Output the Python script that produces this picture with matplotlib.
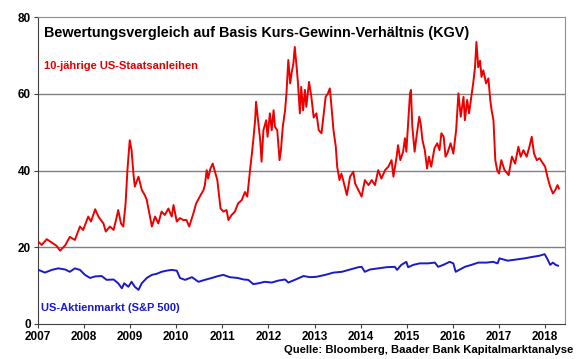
import matplotlib
matplotlib.use("Agg")
import matplotlib.pyplot as plt

plt.rcParams['font.family'] = ['Liberation Sans', 'DejaVu Sans']
plt.rcParams['font.weight'] = 'bold'

# KGV 10-jaehrige US-Staatsanleihen (1 / Rendite)
bond_t = [2007.01, 2007.08, 2007.19, 2007.30, 2007.40, 2007.48, 2007.59, 2007.69, 2007.80, 2007.91,
          2007.98, 2008.09, 2008.15, 2008.24, 2008.31, 2008.42, 2008.47, 2008.56, 2008.64, 2008.71,
          2008.74, 2008.80, 2008.85, 2008.90, 2008.94, 2008.99, 2009.03, 2009.07, 2009.10, 2009.18,
          2009.25, 2009.32, 2009.36, 2009.43, 2009.47, 2009.54, 2009.61, 2009.68, 2009.75, 2009.83,
          2009.90, 2009.94, 2010.01, 2010.08, 2010.15, 2010.22, 2010.28, 2010.37, 2010.43, 2010.51,
          2010.59, 2010.62, 2010.66, 2010.69, 2010.74, 2010.79, 2010.84, 2010.89, 2010.93, 2010.96,
          2011.02, 2011.09, 2011.13, 2011.20, 2011.27, 2011.34, 2011.42, 2011.49, 2011.54, 2011.60,
          2011.64, 2011.67, 2011.71, 2011.73, 2011.78, 2011.82, 2011.85, 2011.89, 2011.95, 2011.98,
          2012.03, 2012.07, 2012.11, 2012.14, 2012.19, 2012.24, 2012.27, 2012.31, 2012.36, 2012.39,
          2012.43, 2012.47, 2012.50, 2012.54, 2012.57, 2012.61, 2012.64, 2012.68, 2012.71, 2012.75,
          2012.79, 2012.82, 2012.88, 2012.93, 2012.98, 2013.04, 2013.09, 2013.15, 2013.20, 2013.24,
          2013.29, 2013.33, 2013.36, 2013.41, 2013.46, 2013.49, 2013.54, 2013.58, 2013.62, 2013.67,
          2013.70, 2013.77, 2013.84, 2013.88, 2013.95, 2014.02, 2014.09, 2014.17, 2014.24, 2014.31,
          2014.38, 2014.45, 2014.53, 2014.60, 2014.67, 2014.71, 2014.78, 2014.81, 2014.86, 2014.92,
          2014.96, 2014.99, 2015.03, 2015.07, 2015.09, 2015.12, 2015.17, 2015.21, 2015.27, 2015.30,
          2015.34, 2015.39, 2015.44, 2015.48, 2015.53, 2015.60, 2015.66, 2015.71, 2015.75, 2015.80,
          2015.84, 2015.88, 2015.95, 2016.01, 2016.07, 2016.12, 2016.17, 2016.23, 2016.26, 2016.31,
          2016.35, 2016.40, 2016.44, 2016.48, 2016.51, 2016.55, 2016.59, 2016.62, 2016.66, 2016.72,
          2016.77, 2016.81, 2016.84, 2016.88, 2016.90, 2016.92, 2016.96, 2017.00, 2017.05, 2017.12,
          2017.21, 2017.28, 2017.35, 2017.42, 2017.47, 2017.53, 2017.60, 2017.66, 2017.71, 2017.76,
          2017.82, 2017.88, 2017.93, 2018.00, 2018.05, 2018.11, 2018.17, 2018.22, 2018.27, 2018.30]
bond_kgv = [21.4, 20.6, 22.1, 21.2, 20.4, 19.1, 20.5, 22.7, 21.9, 25.4,
            24.5, 28.0, 26.7, 29.9, 28.0, 26.2, 24.1, 25.4, 24.5, 28.0,
            29.7, 26.2, 25.4, 31.4, 40.1, 47.9, 45.3, 39.2, 35.8, 38.4,
            35.0, 33.5, 32.3, 28.0, 25.4, 28.0, 26.2, 29.3, 28.4, 30.1,
            28.0, 31.0, 26.7, 27.6, 27.1, 27.1, 25.4, 28.8, 31.4, 33.2,
            34.9, 36.2, 40.1, 37.9, 40.5, 41.8, 39.7, 37.5, 33.2, 30.1,
            29.3, 29.7, 27.1, 28.4, 29.3, 31.4, 32.3, 34.4, 33.2, 40.1,
            44.4, 47.9, 53.1, 57.9, 52.3, 47.9, 42.3, 50.5, 53.1, 48.8,
            54.9, 50.5, 55.7, 51.4, 50.5, 42.7, 45.3, 51.4, 55.7, 60.1,
            68.8, 62.7, 65.3, 67.9, 72.2, 67.0, 62.7, 54.9, 61.8, 55.7,
            61.0, 56.6, 63.1, 59.2, 53.8, 54.9, 50.5, 49.7, 54.9, 59.2,
            60.1, 61.4, 57.5, 50.5, 46.2, 41.0, 37.5, 39.2, 37.5, 35.0,
            33.6, 38.4, 39.7, 36.6, 34.9, 33.2, 37.5, 36.2, 37.5, 36.2,
            40.1, 37.9, 40.1, 41.0, 42.7, 38.4, 43.6, 46.6, 42.7, 44.9,
            48.4, 44.9, 52.3, 60.1, 61.0, 51.4, 44.9, 48.8, 54.0, 52.3,
            47.9, 45.3, 40.5, 43.6, 41.0, 45.8, 47.1, 45.3, 49.7, 48.8,
            43.6, 44.5, 47.1, 44.4, 50.5, 60.1, 54.0, 59.2, 53.1, 58.4,
            54.9, 59.2, 62.7, 66.9, 73.5, 66.9, 68.6, 64.4, 66.1, 62.7,
            64.0, 58.4, 55.7, 53.1, 47.9, 42.7, 40.1, 39.2, 42.7, 40.1,
            38.8, 43.6, 41.8, 46.2, 43.6, 45.3, 43.6, 46.2, 48.8, 44.4,
            42.7, 43.2, 42.3, 41.0, 38.4, 35.8, 34.0, 34.9, 36.2, 35.3]

# KGV S&P 500
spx_t = [2007.01, 2007.15, 2007.30, 2007.44, 2007.59, 2007.69, 2007.80, 2007.91, 2008.02, 2008.13,
         2008.24, 2008.38, 2008.49, 2008.64, 2008.74, 2008.82, 2008.87, 2008.96, 2009.03, 2009.10,
         2009.18, 2009.25, 2009.36, 2009.47, 2009.58, 2009.68, 2009.79, 2009.90, 2010.01, 2010.08,
         2010.19, 2010.34, 2010.48, 2010.62, 2010.77, 2010.91, 2011.02, 2011.16, 2011.33, 2011.46,
         2011.56, 2011.67, 2011.78, 2011.92, 2012.07, 2012.21, 2012.36, 2012.43, 2012.57, 2012.76,
         2012.90, 2013.04, 2013.23, 2013.41, 2013.59, 2013.77, 2013.95, 2014.02, 2014.09, 2014.20,
         2014.38, 2014.56, 2014.74, 2014.79, 2014.88, 2014.99, 2015.03, 2015.14, 2015.28, 2015.46,
         2015.61, 2015.68, 2015.79, 2015.93, 2016.01, 2016.06, 2016.15, 2016.26, 2016.40, 2016.55,
         2016.73, 2016.87, 2016.97, 2017.01, 2017.19, 2017.37, 2017.55, 2017.73, 2017.88, 2017.99,
         2018.06, 2018.11, 2018.17, 2018.23, 2018.28]
spx_kgv = [14.1, 13.4, 14.1, 14.5, 14.2, 13.6, 14.5, 14.1, 12.8, 12.0,
           12.4, 12.5, 11.5, 11.6, 10.6, 9.3, 10.6, 9.7, 11.0, 9.7,
           8.9, 10.6, 12.0, 12.8, 13.1, 13.6, 13.9, 14.1, 13.9, 12.0,
           11.5, 12.2, 11.0, 11.5, 12.0, 12.5, 12.8, 12.2, 12.0, 11.6,
           11.5, 10.4, 10.6, 11.0, 10.8, 11.3, 11.6, 10.8, 11.5, 12.5,
           12.2, 12.3, 12.8, 13.4, 13.6, 14.2, 14.8, 14.9, 13.6, 14.2,
           14.5, 14.8, 14.9, 14.1, 15.4, 16.2, 14.8, 15.4, 15.8, 15.8,
           16.0, 14.9, 15.4, 16.2, 15.8, 13.6, 14.2, 14.9, 15.4, 16.0,
           16.0, 16.2, 15.8, 17.1, 16.5, 16.8, 17.1, 17.5, 17.8, 18.2,
           16.7, 15.4, 16.0, 15.4, 15.2]

years = list(range(2007, 2019))
y_ticks = [0, 20, 40, 60, 80]

fig = plt.figure(figsize=(5.8, 3.59), dpi=100)
ax = fig.add_axes([0.0655, 0.0975, 0.9085, 0.8551])

for v in [20, 40, 60]:
    ax.axhline(v, color='#808080', lw=1.0, zorder=1)

ax.plot(bond_t, bond_kgv, color='#ee0000', lw=1.4, zorder=3)
ax.plot(spx_t, spx_kgv, color='#1a1acc', lw=1.4, zorder=3)

ax.set_xlim(2007, 2018.43)
ax.set_ylim(0, 80)
ax.set_xticks(years)
ax.set_xticklabels([str(y) for y in years])
ax.set_yticks(y_ticks)
ax.tick_params(axis='both', direction='out', length=3, width=0.8, labelsize=8.5,
               color='#404040', pad=2)
for lab in ax.get_xticklabels() + ax.get_yticklabels():
    lab.set_fontweight('bold')

ax.spines['left'].set_color('#404040')
ax.spines['bottom'].set_color('#404040')
ax.spines['top'].set_color('#909090')
ax.spines['right'].set_color('#909090')

ax.text(0.011, 0.972, 'Bewertungsvergleich auf Basis Kurs-Gewinn-Verhältnis (KGV)',
        transform=ax.transAxes, fontsize=10.4, fontweight='bold', color='black',
        ha='left', va='top')
ax.text(0.011, 0.858, '10-jährige US-Staatsanleihen', transform=ax.transAxes,
        fontsize=8, fontweight='bold', color='#e00000', ha='left', va='top')
ax.text(0.005, 0.07, 'US-Aktienmarkt (S&P 500)', transform=ax.transAxes,
        fontsize=8, fontweight='bold', color='#1a1acc', ha='left', va='top')
fig.text(0.988, 0.012, 'Quelle: Bloomberg, Baader Bank Kapitalmarktanalyse',
         fontsize=8.1, fontweight='bold', color='black', ha='right', va='bottom')

fig.savefig('out.png', dpi=100)
